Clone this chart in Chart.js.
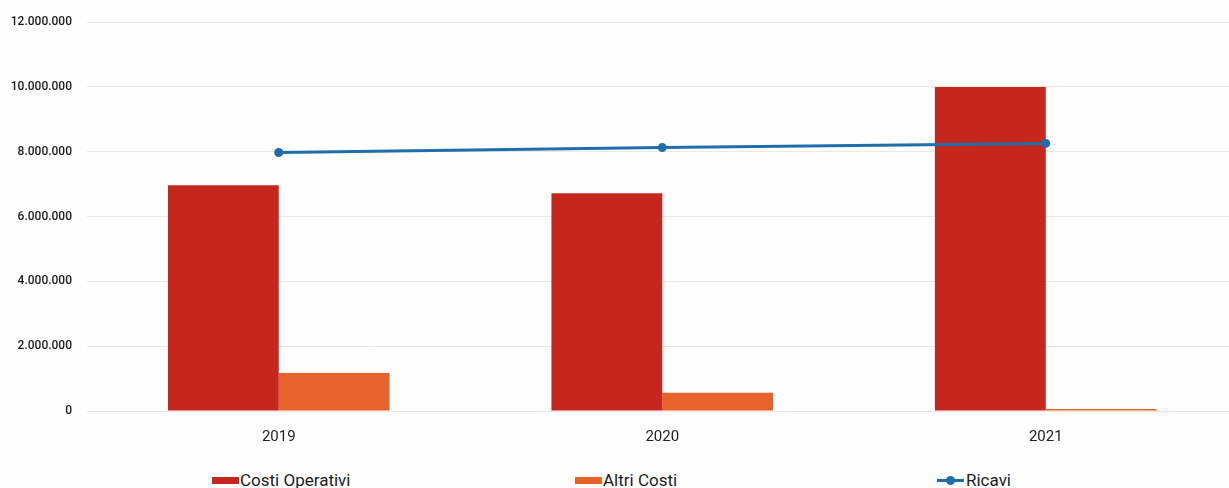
<!DOCTYPE html>
<html>
<head>
<meta charset="utf-8">
<script src="https://cdn.jsdelivr.net/npm/chart.js@4/dist/chart.umd.min.js"></script>
<style>
  html, body { margin: 0; padding: 0; background: #ffffff; overflow: hidden; }
  #wrap { position: relative; width: 1229px; height: 488px; overflow: hidden; background: #fefefe; }
  #c { position: absolute; left: 0; top: 0; }
  #legend { position: absolute; top: 470px; left: 0; width: 1229px; height: 20px; font-family: Roboto, "Liberation Sans", sans-serif; font-size: 17px; color: #1c1c1c; }
  .item { position: absolute; top: 0; display: flex; align-items: center; white-space: nowrap; line-height: 20px; }
  .item:nth-child(1) { left: 212px; }
  .item:nth-child(2) { left: 575px; }
  .item:nth-child(3) { left: 937px; }
  .box { width: 27px; height: 7px; margin-right: 1px; margin-top: 1px; }
  .lineMark { position: relative; width: 27px; height: 7px; margin-right: 2px; margin-top: 1px; }
  .lineMark .l { position: absolute; left: 0; right: 0; top: 2px; height: 3px; }
  .lineMark .p { position: absolute; left: 9px; top: -1px; width: 9px; height: 9px; border-radius: 50%; }
</style>
</head>
<body>
<div id="wrap">
  <canvas id="c" width="1242" height="460" style="width:1242px;height:460px"></canvas>
  <div id="legend"></div>
</div>
<script>
const categories = ['2019', '2020', '2021'];
const costiOperativi = [6970000, 6720000, 10000000];
const altriCosti = [1170000, 560000, 60000];
const ricavi = [7980000, 8130000, 8260000];
const yTicks = [0, 2000000, 4000000, 6000000, 8000000, 10000000, 12000000];

const seriesNames = ['Costi Operativi', 'Altri Costi', 'Ricavi'];
const colors = ['#c5271d', '#e8622b', '#1f6eab'];

function fmt(v) {
  return String(Math.round(v)).replace(/\B(?=(\d{3})+(?!\d))/g, '.');
}

const ctx = document.getElementById('c').getContext('2d');
const chart = new Chart(ctx, {
  data: {
    labels: categories,
    datasets: [
      { type: 'line', label: seriesNames[2], data: ricavi, borderColor: colors[2], backgroundColor: colors[2],
        borderWidth: 3, pointRadius: 4.5, pointBackgroundColor: colors[2], pointBorderWidth: 0, tension: 0, order: 0 },
      { type: 'bar', label: seriesNames[0], data: costiOperativi, backgroundColor: colors[0], borderWidth: 0,
        barPercentage: 1, categoryPercentage: 0.578, order: 1 },
      { type: 'bar', label: seriesNames[1], data: altriCosti, backgroundColor: colors[1], borderWidth: 0,
        barPercentage: 1, categoryPercentage: 0.578, order: 1 }
    ]
  },
  options: {
    responsive: false,
    animation: false,
    layout: { padding: { top: 20, right: 1, left: 0, bottom: 0 } },
    plugins: { legend: { display: false }, tooltip: { enabled: false } },
    scales: {
      x: {
        grid: { display: false, drawTicks: false },
        border: { display: false },
        ticks: { color: '#222', font: { family: 'Roboto', size: 15 }, padding: 17 },
        afterFit: (s) => { s.height = 49; }
      },
      y: {
        min: 0, max: 12000000,
        afterBuildTicks: (s) => { s.ticks = yTicks.map(v => ({ value: v })); },
        grid: { color: '#ebe9df', lineWidth: 1, drawTicks: false },
        border: { display: false },
        ticks: { color: '#1c1c1c', font: { family: 'Roboto', size: 12, weight: '500' }, padding: 15,
          callback: (v) => fmt(v) },
        afterFit: (s) => { s.width = 87; }
      }
    }
  }
});

// HTML legend built from datasets
const legend = document.getElementById('legend');
[1, 2, 0].forEach(i => {
  const ds = chart.data.datasets[i];
  const item = document.createElement('div');
  item.className = 'item';
  if (ds.type === 'line') {
    const m = document.createElement('div');
    m.className = 'lineMark';
    const l = document.createElement('div'); l.className = 'l'; l.style.background = ds.borderColor;
    const p = document.createElement('div'); p.className = 'p'; p.style.background = ds.borderColor;
    m.appendChild(l); m.appendChild(p);
    item.appendChild(m);
  } else {
    const b = document.createElement('div');
    b.className = 'box'; b.style.background = ds.backgroundColor;
    item.appendChild(b);
  }
  const t = document.createElement('span');
  t.textContent = ds.label;
  item.appendChild(t);
  legend.appendChild(item);
});
</script>
</body>
</html>
